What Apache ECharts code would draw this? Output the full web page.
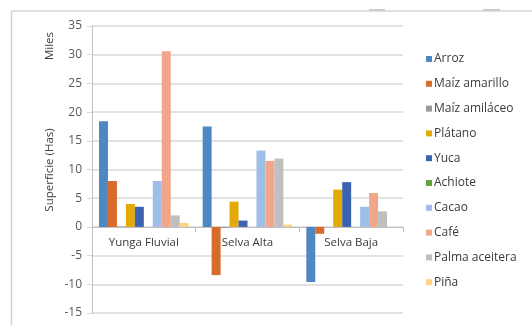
<!DOCTYPE html>
<html>
<head>
<meta charset="utf-8">
<script src="https://cdn.jsdelivr.net/npm/echarts@6/dist/echarts.min.js"></script>
<style>
  html, body { margin: 0; padding: 0; background: #fff; }
  #chart { width: 532px; height: 325px; }
</style>
</head>
<body>
<div id="chart"></div>
<script>
// Regions along the category axis
const regions = ['Yunga Fluvial', 'Selva Alta', 'Selva Baja'];

// Planted surface by crop (thousands of hectares)
const arroz        = [18.4, 17.5, -9.6];
const maizAmarillo = [8.0, -8.4, -1.2];
const maizAmilaceo = [0.1, -0.2, 0];
const platano      = [4.0, 4.4, 6.5];
const yuca         = [3.5, 1.1, 7.8];
const achiote      = [0, 0, 0];
const cacao        = [8.0, 13.3, 3.5];
const cafe         = [30.6, 11.5, 5.9];
const palmaAceitera = [2.0, 11.9, 2.7];
const pina         = [0.7, 0.4, 0];

// Value-axis range and step
const yMin = -15, yMax = 35, yStep = 5;

const seriesDefs = [
  { name: 'Arroz',          data: arroz,         color: '#4f87c2' },
  { name: 'Maíz amarillo',  data: maizAmarillo,  color: '#d86a2c' },
  { name: 'Maíz amiláceo',  data: maizAmilaceo,  color: '#9a9a9a' },
  { name: 'Plátano',        data: platano,       color: '#e3aa05' },
  { name: 'Yuca',           data: yuca,          color: '#3d63b0' },
  { name: 'Achiote',        data: achiote,       color: '#66a040' },
  { name: 'Cacao',          data: cacao,         color: '#9dbfe5' },
  { name: 'Café',           data: cafe,          color: '#f1a68a' },
  { name: 'Palma aceitera', data: palmaAceitera, color: '#bfbfbf' },
  { name: 'Piña',           data: pina,          color: '#ffd283' }
];

const FONT = 'Open Sans';
const chart = echarts.init(document.getElementById('chart'), null, { renderer: 'canvas' });

chart.setOption({
  animation: false,
  backgroundColor: '#ffffff',
  textStyle: { fontFamily: FONT },
  grid: { left: 92, right: 129, top: 26, bottom: 12, containLabel: false, outerBoundsMode: 'none' },
  legend: {
    orient: 'vertical',
    left: 421,
    top: 47,
    itemWidth: 6,
    itemHeight: 6,
    itemGap: 10.8,
    icon: 'rect',
    textStyle: { fontFamily: FONT, fontSize: 12, color: '#3a3a3a', lineHeight: 14, padding: [0, 0, 0, -3] },
    data: seriesDefs.map(s => s.name)
  },
  xAxis: {
    type: 'category',
    data: regions,
    position: 'bottom',
    axisLine: { onZero: false, lineStyle: { color: '#bfbfbf', width: 1 } },
    axisTick: { show: true, length: 5, lineStyle: { color: '#bfbfbf' } },
    axisLabel: { fontFamily: FONT, fontSize: 11.5, color: '#3a3a3a', margin: 10 },
    splitLine: { show: false }
  },
  yAxis: {
    type: 'value',
    min: yMin,
    max: yMax,
    interval: yStep,
    axisLine: { show: true, lineStyle: { color: '#bfbfbf', width: 1 } },
    axisTick: { show: true, length: 5, lineStyle: { color: '#d9d9d9' } },
    axisLabel: { fontFamily: FONT, fontSize: 12, color: '#595959', margin: 10 },
    splitLine: { show: true, lineStyle: { color: '#d9d9d9', width: 1.5 } }
  },
  series: seriesDefs.map(s => ({
    name: s.name,
    type: 'bar',
    data: s.data,
    barGap: '0%',
    barCategoryGap: '13.5%',
    itemStyle: { color: s.color },
    emphasis: { disabled: true }
  })),
  graphic: [
    // chart-area frame (top and left edges)
    { type: 'line', shape: { x1: 11.5, y1: 11, x2: 532, y2: 11 }, style: { stroke: '#d4d4d4', lineWidth: 1.5 }, silent: true },
    { type: 'line', shape: { x1: 11.5, y1: 11, x2: 11.5, y2: 325 }, style: { stroke: '#d4d4d4', lineWidth: 1.5 }, silent: true },
    // handles on the frame
    { type: 'line', shape: { x1: 369, y1: 9.8, x2: 385, y2: 9.8 }, style: { stroke: '#c4c4c4', lineWidth: 1.5 }, silent: true },
    { type: 'line', shape: { x1: 483, y1: 9.8, x2: 500, y2: 9.8 }, style: { stroke: '#c4c4c4', lineWidth: 1.5 }, silent: true },
    // value-axis title and display-unit label
    {
      type: 'text', x: 50, y: 170, rotation: Math.PI / 2,
      style: { text: 'Superficie (Has)', fontFamily: FONT, fontSize: 11.5, fill: '#404040', align: 'center', verticalAlign: 'middle' }
    },
    {
      type: 'text', x: 50, y: 46, rotation: Math.PI / 2,
      style: { text: 'Miles', fontFamily: FONT, fontSize: 11.5, fill: '#404040', align: 'center', verticalAlign: 'middle' }
    }
  ]
});

// Lift the category axis (line, ticks and labels) up to the zero level of the value axis
const yZero = chart.convertToPixel({ yAxisIndex: 0 }, 0);
const yBottom = chart.convertToPixel({ yAxisIndex: 0 }, yMin);
chart.setOption({ xAxis: { offset: -(yBottom - yZero) } });
</script>
</body>
</html>
